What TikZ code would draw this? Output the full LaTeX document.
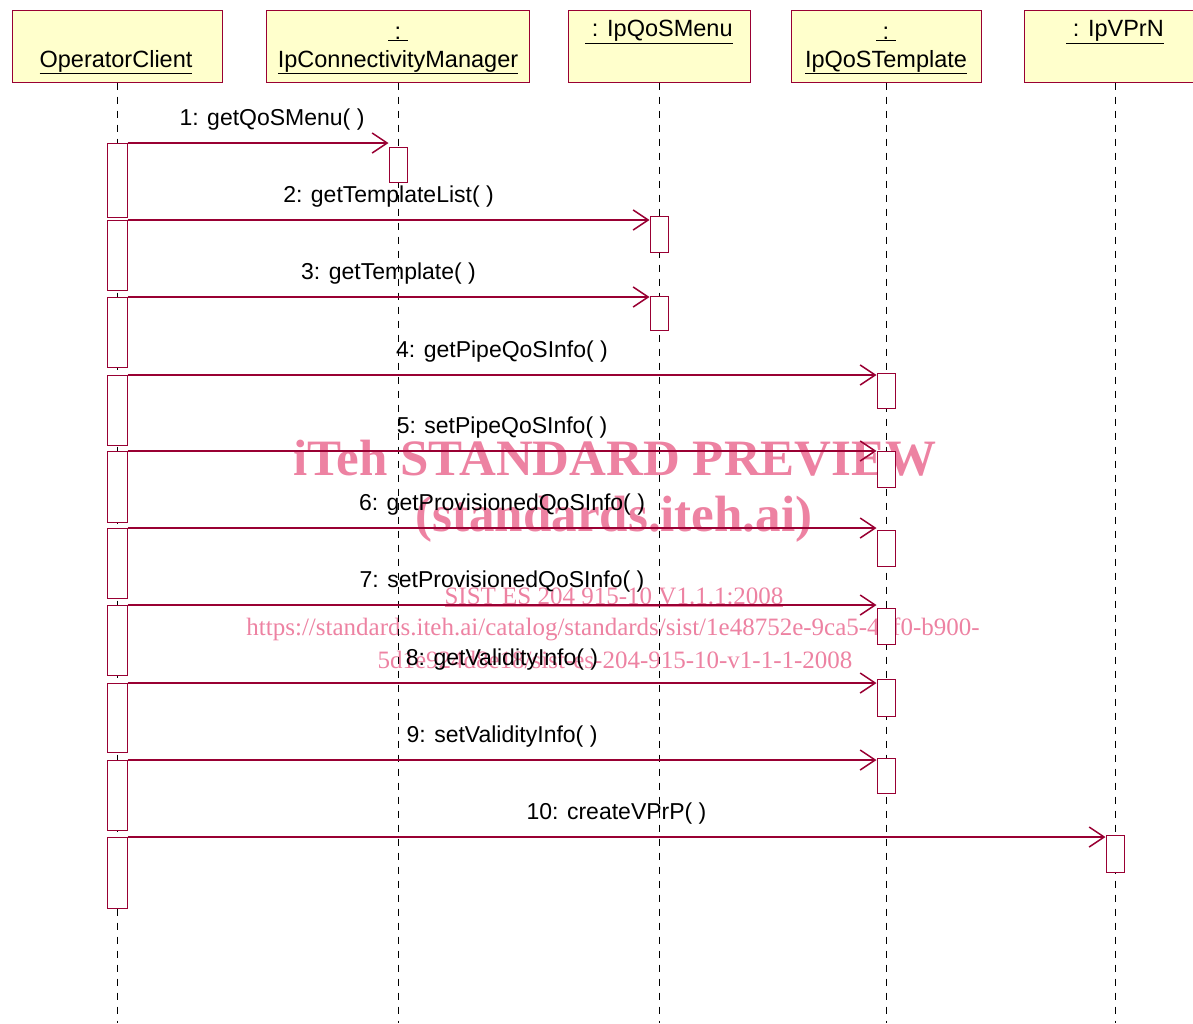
\documentclass[tikz,border=0pt]{standalone}
\usepackage{fontspec}
\setmainfont{Liberation Sans}
\newfontfamily\wmfont{Liberation Serif}
\usepackage{tikz}
\usetikzlibrary{positioning, arrows.meta, calc}
\definecolor{rosered}{RGB}{153,0,51}
\definecolor{boxfill}{RGB}{255,255,204}
\definecolor{wmpink}{RGB}{237,130,162}
\tikzset{
    objbox/.style={draw=rosered, fill=boxfill, line width=1pt, minimum height=72pt, inner sep=0pt},
    objname/.style={font=\fontsize{23.5}{28}\selectfont, inner sep=0pt},
    lifeline/.style={draw=black, line width=1pt, dash pattern=on 7pt off 7pt},
    actbox/.style={draw=rosered, fill=white, line width=1pt, minimum width=18pt, anchor=north, inner sep=0pt},
    srcbox/.style={actbox, minimum width=20pt},
    msg/.style={draw=rosered, line width=1.2pt, -{Straight Barb[length=15pt, width=20pt, line width=1.5pt]}},
    msglabel/.style={font=\fontsize{23}{28}\selectfont, above=12pt, inner sep=0pt},
    wmbig/.style={text=wmpink, font=\wmfont\bfseries\fontsize{51}{60}\selectfont, inner sep=0pt},
    wmsmall/.style={text=wmpink, font=\wmfont\fontsize{25}{30}\selectfont, inner sep=0pt},
}

\begin{document}
\begin{tikzpicture}[x=1pt, y=-1pt]
\useasboundingbox (0,0) rectangle (1193,1023);
\clip (0,0) rectangle (1193,1023);
% watermark
\node[wmbig] (wm1) at (615,458) {iTeh STANDARD PREVIEW};
\node[wmbig] (wm2) at (614,519) {(standards.iteh.ai)};
\node[wmsmall] (wm3) at (614,597) {\underline{SIST ES 204 915-10 V1.1.1:2008}};
\node[wmsmall] (wm4) at (613,629) {https://standards.iteh.ai/catalog/standards/sist/1e48752e-9ca5-40f0-b900-};
\node[wmsmall] (wm5) at (615,660) {5d1e924d8e18/sist-es-204-915-10-v1-1-1-2008};

% objects
\node[objbox, minimum width=210pt] (oc) at (117,46) {};
\node[objbox, minimum width=263pt] (cm) at (398,46) {};
\node[objbox, minimum width=182pt] (qm) at (659,46) {};
\node[objbox, minimum width=190pt] (qt) at (886,46) {};
\node[objbox, minimum width=182pt] (vp) at (1115,46) {};
\node[objname] (ocname) at (116,62) {\underline{OperatorClient}};
\node[objname] (cmcolon) at (398,34) {\underline{\ :\ }};
\node[objname] (cmname) at (398,62) {\underline{IpConnectivityManager}};
\node[objname] (qmname) at (659,32) {\underline{\ : IpQoSMenu}};
\node[objname] (qtcolon) at (886,34) {\underline{\ :\ }};
\node[objname] (qtname) at (886,62) {\underline{IpQoSTemplate}};
\node[objname] (vpname) at (1115,32) {\underline{\ : IpVPrN}};

% lifelines
\coordinate (bottom) at (0,1023);
\draw[lifeline] (oc.south) -- (oc.south |- bottom);
\draw[lifeline] (cm.south) -- (cm.south |- bottom);
\draw[lifeline] (qm.south) -- (qm.south |- bottom);
\draw[lifeline] (qt.south) -- (qt.south |- bottom);
\draw[lifeline] (vp.south) -- (vp.south |- bottom);

% activations of the client
\node[srcbox, minimum height=74pt] (s1) at (117,143) {};
\node[srcbox, minimum height=70pt] (s2) at (117,220) {};
\node[srcbox, minimum height=70pt] (s3) at (117,297) {};
\node[srcbox, minimum height=70pt] (s4) at (117,375) {};
\node[srcbox, minimum height=71pt] (s5) at (117,451) {};
\node[srcbox, minimum height=70pt] (s6) at (117,528) {};
\node[srcbox, minimum height=70pt] (s7) at (117,605) {};
\node[srcbox, minimum height=69pt] (s8) at (117,683) {};
\node[srcbox, minimum height=70pt] (s9) at (117,760) {};
\node[srcbox, minimum height=71pt] (s10) at (117,837) {};

% activations of the callees
\node[actbox, minimum height=35pt] (t1) at (398,147) {};
\node[actbox, minimum height=36pt] (t2) at (659,216) {};
\node[actbox, minimum height=34pt] (t3) at (659,296) {};
\node[actbox, minimum height=35pt] (t4) at (886,373) {};
\node[actbox, minimum height=36pt] (t5) at (886,451) {};
\node[actbox, minimum height=36pt] (t6) at (886,530) {};
\node[actbox, minimum height=36pt] (t7) at (886,608) {};
\node[actbox, minimum height=37pt] (t8) at (886,679) {};
\node[actbox, minimum height=35pt] (t9) at (886,758) {};
\node[actbox, minimum height=37pt] (t10) at (1115,835) {};

% messages
\draw[msg] (s1.north east) -- (s1.north east -| t1.west) node[msglabel, midway, xshift=14pt] {1: getQoSMenu( )};
\draw[msg] (s2.north east) -- (s2.north east -| t2.west) node[msglabel, midway] {2: getTemplateList( )};
\draw[msg] (s3.north east) -- (s3.north east -| t3.west) node[msglabel, midway] {3: getTemplate( )};
\draw[msg] (s4.north east) -- (s4.north east -| t4.west) node[msglabel, midway] {4: getPipeQoSInfo( )};
\draw[msg] (s5.north east) -- (s5.north east -| t5.west) node[msglabel, midway] {5: setPipeQoSInfo( )};
\draw[msg] (s6.north east) -- (s6.north east -| t6.west) node[msglabel, midway] {6: getProvisionedQoSInfo( )};
\draw[msg] (s7.north east) -- (s7.north east -| t7.west) node[msglabel, midway] {7: setProvisionedQoSInfo( )};
\draw[msg] (s8.north east) -- (s8.north east -| t8.west) node[msglabel, midway] {8: getValidityInfo( )};
\draw[msg] (s9.north east) -- (s9.north east -| t9.west) node[msglabel, midway] {9: setValidityInfo( )};
\draw[msg] (s10.north east) -- (s10.north east -| t10.west) node[msglabel, midway] {10: createVPrP( )};
\end{tikzpicture}
\end{document}
